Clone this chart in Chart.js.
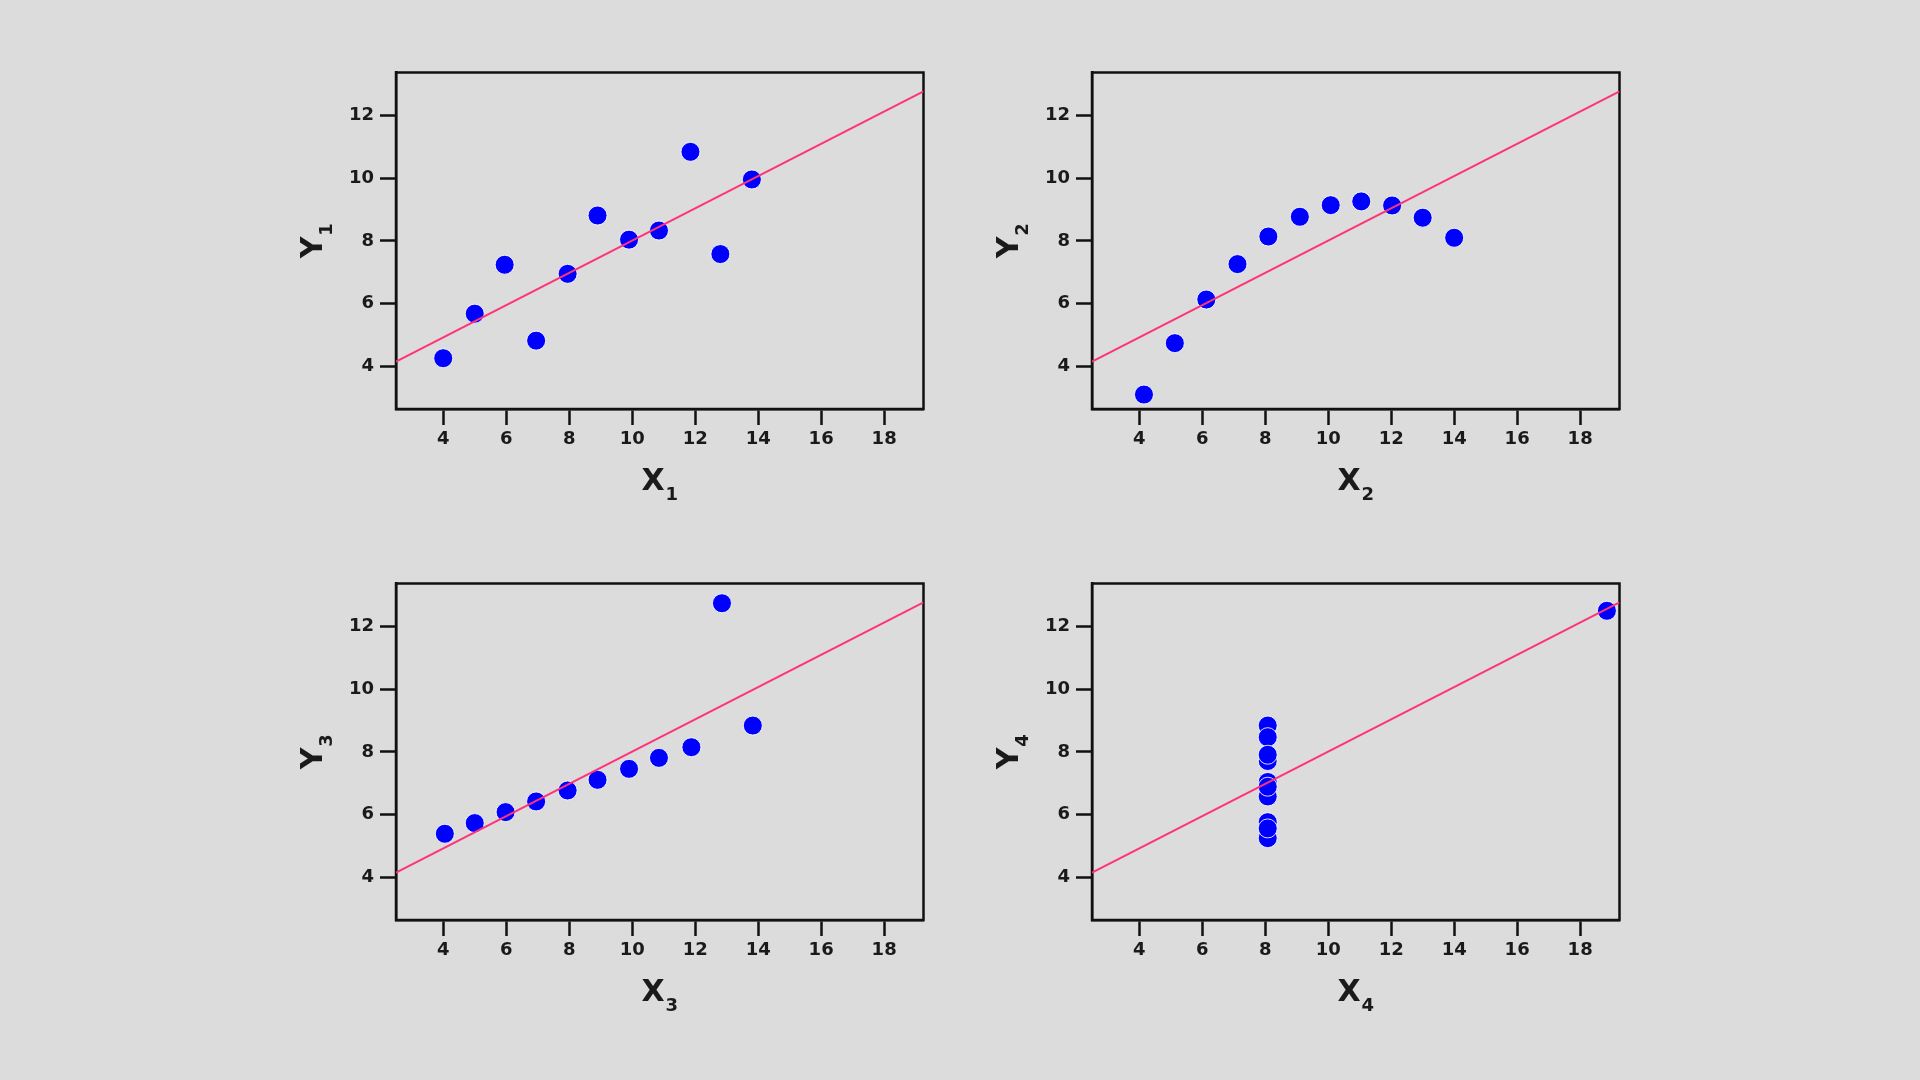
<!DOCTYPE html>
<html lang="en">
<head>
<meta charset="UTF-8">
<title>Anscombe's quartet</title>
<script src="https://cdn.jsdelivr.net/npm/chart.js"></script>
<style>
    html, body {
        margin: 0;
        padding: 0;
        background: #dcdcdc;
    }
    body {
        width: 1920px;
        height: 1080px;
        position: relative;
        overflow: hidden;
    }
    .panel {
        position: absolute;
        width: 648px;
        height: 447px;
    }
</style>
</head>
<body>
<div class="panel" style="left:286px; top:62px;"><canvas id="c1"></canvas></div>
<div class="panel" style="left:982px; top:62px;"><canvas id="c2"></canvas></div>
<div class="panel" style="left:286px; top:573px;"><canvas id="c3"></canvas></div>
<div class="panel" style="left:982px; top:573px;"><canvas id="c4"></canvas></div>
<script>
// values
const x1 = [4.0, 5.0, 5.95, 6.95, 7.95, 8.9, 9.9, 10.85, 11.85, 12.8, 13.8];
const y1 = [4.26, 5.68, 7.24, 4.82, 6.95, 8.81, 8.04, 8.33, 10.84, 7.58, 9.96];

const x2 = [4.15, 5.13, 6.13, 7.12, 8.1, 9.1, 10.08, 11.05, 12.03, 13.0, 14.0];
const y2 = [3.10, 4.74, 6.13, 7.26, 8.14, 8.77, 9.14, 9.26, 9.13, 8.74, 8.10];

const x3 = [4.05, 5.0, 5.98, 6.95, 7.95, 8.9, 9.9, 10.85, 11.88, 12.85, 13.83];
const y3 = [5.39, 5.73, 6.08, 6.42, 6.77, 7.11, 7.46, 7.81, 8.15, 12.74, 8.84];

const x4 = [8.08, 8.08, 8.08, 8.08, 8.08, 8.08, 8.08, 8.08, 8.08, 8.08, 18.85];
const y4 = [6.58, 5.76, 7.71, 8.84, 8.47, 7.04, 5.25, 5.56, 7.91, 6.89, 12.50];

// fitted line end points (same in every panel)
const fitX = [2.5, 19.25];
const fitY = [4.15, 12.77];

const xRange = [2.5, 19.25];
const yRange = [2.64, 13.37];

const FONT = "'DejaVu Sans', Verdana, sans-serif";
Chart.defaults.font.family = FONT;
Chart.defaults.color = '#1a1a1a';

const ink = '#111111';

// top and right sides of the box
const frame = {
    id: 'frame',
    beforeDatasetsDraw(chart) {
        const a = chart.chartArea;
        const ctx = chart.ctx;
        ctx.save();
        ctx.strokeStyle = ink;
        ctx.lineWidth = 2.5;
        ctx.strokeRect(a.left, a.top, a.right - a.left, a.bottom - a.top);
        ctx.restore();
    }
};

// axis names with a subscript number
const axisNames = {
    id: 'axisNames',
    afterDraw(chart, args, opts) {
        const a = chart.chartArea;
        const ctx = chart.ctx;
        const big = 'bold 30px ' + FONT;
        const small = 'bold 18px ' + FONT;
        ctx.save();
        ctx.fillStyle = '#1a1a1a';
        ctx.textBaseline = 'alphabetic';
        ctx.textAlign = 'left';

        function pair(main, sub) {
            ctx.font = big;
            const w1 = ctx.measureText(main).width;
            ctx.font = small;
            const w2 = ctx.measureText(sub).width;
            const total = w1 + 1 + w2;
            ctx.font = big;
            ctx.fillText(main, -total / 2, 0);
            ctx.font = small;
            ctx.fillText(sub, -total / 2 + w1 + 1, 10);
        }

        ctx.save();
        ctx.translate((a.left + a.right) / 2, a.bottom + 81);
        pair(opts.x, opts.n);
        ctx.restore();

        ctx.save();
        ctx.translate(a.left - 74, (a.top + a.bottom) / 2);
        ctx.rotate(-Math.PI / 2);
        pair(opts.y, opts.n);
        ctx.restore();

        ctx.restore();
    }
};

function pairs(xs, ys) {
    return xs.map((x, i) => ({ x: x, y: ys[i] }));
}

function axisStyle() {
    return {
        grid: {
            drawOnChartArea: false,
            drawTicks: true,
            tickLength: 16,
            tickWidth: 2.5,
            tickColor: ink
        },
        border: { display: true, color: ink, width: 2.5 }
    };
}

function makePanel(id, xs, ys, n) {
    const ctx = document.getElementById(id).getContext('2d');
    return new Chart(ctx, {
        type: 'scatter',
        data: {
            datasets: [{
                type: 'line',
                data: pairs(fitX, fitY),
                borderColor: '#ff3377',
                borderWidth: 2,
                pointRadius: 0,
                fill: false,
                order: 0
            }, {
                data: pairs(xs, ys),
                backgroundColor: '#0000ff',
                borderColor: 'rgba(255,255,255,0.85)',
                borderWidth: 1,
                pointRadius: 9.5,
                clip: false,
                order: 1
            }]
        },
        options: {
            responsive: true,
            maintainAspectRatio: false,
            animation: false,
            layout: { padding: { top: 10, right: 10, left: 0, bottom: 0 } },
            plugins: {
                legend: { display: false },
                tooltip: { enabled: false },
                axisNames: { x: 'X', y: 'Y', n: n }
            },
            scales: {
                x: Object.assign({
                    type: 'linear',
                    min: xRange[0],
                    max: xRange[1],
                    afterFit(s) {
                        s.height = 100;
                        s.paddingLeft = 0;
                        s.paddingRight = 0;
                    },
                    ticks: {
                        stepSize: 2,
                        includeBounds: false,
                        maxRotation: 0,
                        padding: 4,
                        color: '#1a1a1a',
                        font: { size: 18, weight: 'bold' }
                    }
                }, axisStyle()),
                y: Object.assign({
                    type: 'linear',
                    min: yRange[0],
                    max: yRange[1],
                    afterFit(s) {
                        s.width = 110;
                        s.paddingTop = 0;
                        s.paddingBottom = 0;
                    },
                    ticks: {
                        stepSize: 2,
                        includeBounds: false,
                        padding: 6,
                        color: '#1a1a1a',
                        font: { size: 18, weight: 'bold' }
                    }
                }, axisStyle())
            }
        },
        plugins: [frame, axisNames]
    });
}

makePanel('c1', x1, y1, '1');
makePanel('c2', x2, y2, '2');
makePanel('c3', x3, y3, '3');
makePanel('c4', x4, y4, '4');
</script>
</body>
</html>
